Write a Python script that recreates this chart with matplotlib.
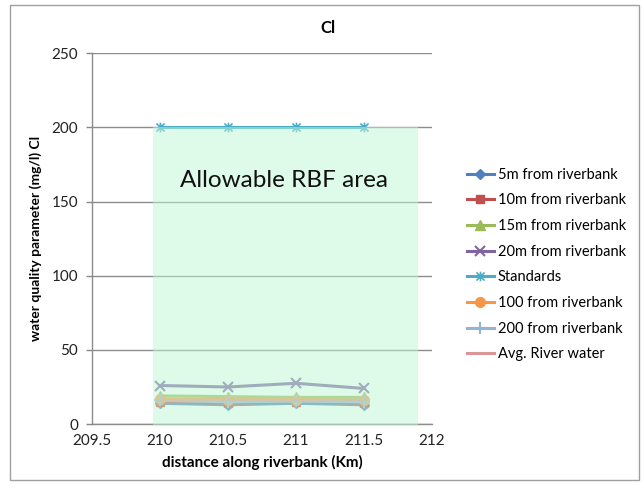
import matplotlib
matplotlib.use("Agg")
import matplotlib.pyplot as plt
from matplotlib.path import Path
from matplotlib.patches import Rectangle

plt.rcParams['font.family'] = ['Lato', 'DejaVu Sans']

# Data
distance = [210, 210.5, 211, 211.5]
series_names = ["5m from riverbank", "10m from riverbank", "15m from riverbank",
                "20m from riverbank", "Standards", "100 from riverbank",
                "200 from riverbank", "Avg. River water"]
cl_5m = [14, 13, 14, 13]
cl_10m = [15, 14, 15, 14]
cl_15m = [19, 18.5, 18, 18]
cl_20m = [26, 25, 27.5, 24]
cl_standards = [200, 200, 200, 200]
cl_100m = [17, 16.5, 16.5, 16]
cl_200m = [16, 15, 15.5, 15]
cl_river = [16, 16, 16, 16]
y_ticks = [0, 50, 100, 150, 200, 250]
x_ticks = [209.5, 210, 210.5, 211, 211.5, 212]
x_tick_labels = ["209.5", "210", "210.5", "211", "211.5", "212"]

# Allowable area extents
area_x = (209.95, 211.9)
area_y = (-1, 200)

# Star marker: an x with a vertical bar
star = Path([(-1, -1), (1, 1), (-1, 1), (1, -1), (0, -1.2), (0, 1.2)],
            [Path.MOVETO, Path.LINETO, Path.MOVETO, Path.LINETO, Path.MOVETO, Path.LINETO])

styles = [
    dict(color="#4F81BD", marker="D", ms=5),
    dict(color="#C0504D", marker="s", ms=6),
    dict(color="#9BBB59", marker="^", ms=7),
    dict(color="#8064A2", marker="x", ms=7, mew=1.5),
    dict(color="#4BACC6", marker=star, ms=7, mew=1.2),
    dict(color="#F79646", marker="o", ms=7),
    dict(color="#95B3D7", marker="+", ms=8, mew=1.5),
    dict(color="#D99694", marker=None),
]
values = [cl_5m, cl_10m, cl_15m, cl_20m, cl_standards, cl_100m, cl_200m, cl_river]

fig = plt.figure(figsize=(6.43, 4.88), dpi=100)
ax = fig.add_axes([0.143, 0.131, 0.529, 0.760])

for name, vals, st in zip(series_names, values, styles):
    ax.plot(distance, vals, label=name, lw=2.2, zorder=2, **st)

ax.add_patch(Rectangle((area_x[0], area_y[0]), area_x[1] - area_x[0], area_y[1] - area_y[0],
                       facecolor="#bff7d5", alpha=0.5, edgecolor="none", zorder=3, clip_on=False))
ax.text(sum(area_x) / 2 - 0.01, 164, "Allowable RBF area", ha="center", va="center",
        fontsize=17.5, color="#111111", zorder=4)

ax.set_xlim(209.5, 212)
ax.set_ylim(0, 250)
ax.set_xticks(x_ticks)
ax.set_xticklabels(x_tick_labels)
ax.set_yticks(y_ticks)
ax.tick_params(axis="x", length=0, labelsize=11, pad=7, colors="#222222")
ax.tick_params(axis="y", length=4, width=1, color="#888888", labelsize=11, pad=6, labelcolor="#222222")
ax.grid(axis="y", color="#8c8c8c", lw=1)
ax.set_axisbelow(True)
for s in ("top", "right"):
    ax.spines[s].set_visible(False)
for s in ("left", "bottom"):
    ax.spines[s].set_color("#8c8c8c")
    ax.spines[s].set_linewidth(1)

ax.set_xlabel("distance along riverbank (Km)", fontsize=11, fontweight="bold", labelpad=5)
ax.set_ylabel("water quality parameter (mg/l) Cl", fontsize=10, fontweight="bold", labelpad=7)
fig.text(0.51, 0.942, "Cl", ha="center", va="center", fontsize=12, fontweight="bold")

leg = ax.legend(loc="center left", bbox_to_anchor=(1.064, 0.43), frameon=False,
                fontsize=10.5, handlelength=1.85, labelspacing=0.8, handletextpad=0.25)

fig.patches.append(Rectangle((10 / 643, 1 - 480 / 488), 629 / 643, 475 / 488,
                             transform=fig.transFigure, fill=False,
                             edgecolor="#a0a0a0", lw=1))

fig.savefig("out.png", dpi=100)
